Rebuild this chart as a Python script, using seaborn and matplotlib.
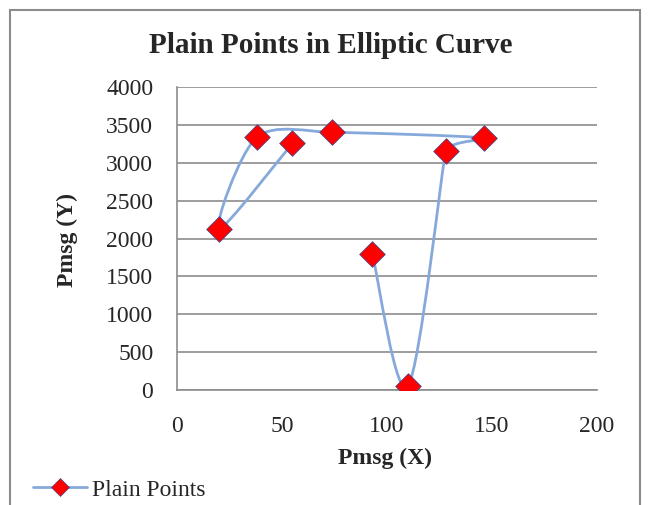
import matplotlib
matplotlib.use("Agg")
import matplotlib.pyplot as plt
import seaborn as sns
import pandas as pd
import numpy as np
from matplotlib.path import Path
from matplotlib.patches import PathPatch, Rectangle
from matplotlib.lines import Line2D

# data, in the order the series is drawn
x_vals = [55, 20, 38, 74, 146, 128, 110, 93]
y_vals = [3256, 2125, 3336, 3401, 3327, 3155, 53, 1800]
series_name = "Plain Points"
title = "Plain Points in Elliptic Curve"
x_label = "Pmsg (X)"
y_label = "Pmsg (Y)"
x_ticks = [0, 50, 100, 150, 200]
y_ticks = [0, 500, 1000, 1500, 2000, 2500, 3000, 3500, 4000]

df = pd.DataFrame({"x": x_vals, "y": y_vals})

sns.set_style("white")
plt.rcParams["font.family"] = ["Liberation Serif", "DejaVu Serif"]

line_color = "#86A9DB"
fig = plt.figure(figsize=(6.54, 5.05), dpi=100)
ax = fig.add_axes([0.2706, 0.2277, 0.6422, 0.6])
ax.set_xlim(0, 200)
ax.set_ylim(0, 4000)

# Excel-style smoothed line: cubic Bezier through the points, built in
# display space so that tangents follow what is seen on screen
pts = ax.transData.transform(np.column_stack([x_vals, y_vals]))
n = len(pts)


def tangent(i):
    p0 = pts[max(i - 1, 0)]
    p2 = pts[min(i + 1, n - 1)]
    d = p2 - p0
    length = np.hypot(*d)
    if length == 0:
        return np.zeros(2)
    near = [np.hypot(*(pts[j] - pts[i])) for j in (i - 1, i + 1) if 0 <= j < n]
    mag = min(length / 6, 0.3 * min(near))
    return d / length * mag


verts = [pts[0]]
codes = [Path.MOVETO]
for i in range(n - 1):
    verts += [pts[i] + tangent(i), pts[i + 1] - tangent(i + 1), pts[i + 1]]
    codes += [Path.CURVE4] * 3
verts = ax.transData.inverted().transform(np.array(verts))
ax.add_patch(PathPatch(Path(verts, codes), facecolor="none",
                       edgecolor=line_color, lw=2, zorder=2))

sns.scatterplot(data=df, x="x", y="y", ax=ax, marker="D", s=170,
                color="#FF0000", edgecolor="#4A4A8A", linewidth=0.6,
                zorder=3, legend=False)

ax.set_xlim(0, 200)
ax.set_ylim(0, 4000)
ax.set_xticks(x_ticks)
ax.set_yticks(y_ticks)
ax.yaxis.grid(True, color="#8C8C8C", lw=1.2)
ax.xaxis.grid(False)
for side in ["top", "right"]:
    ax.spines[side].set_visible(False)
for side in ["left", "bottom"]:
    ax.spines[side].set_color("#8C8C8C")
    ax.spines[side].set_linewidth(1.2)
ax.tick_params(axis="y", length=0, pad=17, labelsize=17)
ax.tick_params(axis="x", length=0, pad=19, labelsize=17)

ax.set_xlabel(x_label, fontsize=17, fontweight="bold")
ax.set_ylabel(y_label, fontsize=17, fontweight="bold")
ax.xaxis.set_label_coords(0.495, -0.19)
ax.yaxis.set_label_coords(-0.235, 0.495)

fig.text(0.505, 0.91, title, ha="center", va="center",
         fontsize=21, fontweight="bold")

handle = Line2D([], [], color=line_color, lw=2, marker="D", markersize=9,
                markerfacecolor="#FF0000", markeredgecolor="#4A4A8A",
                markeredgewidth=0.5)
fig.legend([handle], [series_name], loc="center left",
           bbox_to_anchor=(0.018, 0.03), frameon=False, fontsize=17,
           handlelength=2.3, handletextpad=0.2)

# chart area border
fig.patches.append(Rectangle((10 / 654, -0.05), 630 / 654, 1.05 - 10 / 505,
                             transform=fig.transFigure, fill=False,
                             edgecolor="#8C8C8C", lw=1.5, zorder=0))

fig.savefig("out.png", dpi=100)
